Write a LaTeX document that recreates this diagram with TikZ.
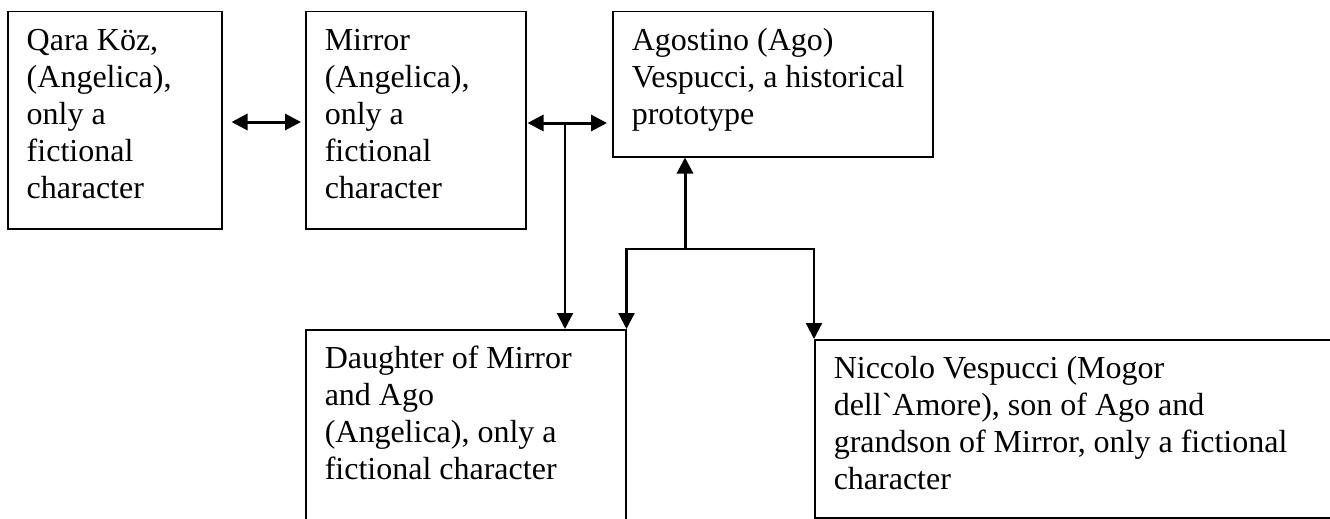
\documentclass[tikz,border=0pt]{standalone}
\usepackage{fontspec}
\setmainfont{Liberation Serif}
\usetikzlibrary{arrows.meta,calc}

\newcommand{\cardtext}[3]{\parbox[t][#1][t]{#2}{\strut #3}}

\tikzset{
  card/.style={draw, line width=1.5pt, anchor=north west,
    inner xsep=19pt, inner ysep=13pt, font=\fontsize{32}{37}\selectfont},
  link/.style={line width=2.2pt, >={Triangle[length=16pt,width=16pt]}},
  heavy link/.style={link, line width=3pt}
}

\begin{document}
\begin{tikzpicture}[x=1pt, y=-1pt]
  \useasboundingbox (0,0) rectangle (1330,519);
  \clip (0,0) rectangle (1330,519);

  % top row
  \node[card] (qara) at (7,11)
    {\cardtext{191pt}{176pt}{Qara Köz,\\(Angelica),\\only a\\fictional\\character}};
  \node[card] (mirror) at (305,11)
    {\cardtext{191pt}{182pt}{Mirror\\(Angelica),\\only a\\fictional\\character}};
  \node[card] (ago) at (612,11)
    {\cardtext{119pt}{282pt}{Agostino (Ago)\\Vespucci, a historical\\prototype}};

  % bottom row (runs past the page edge)
  \node[card] (daughter) at (305,329)
    {\cardtext{214pt}{282pt}{Daughter of Mirror\\and Ago\\(Angelica), only a\\fictional character}};
  \node[card] (niccolo) at (814,339)
    {\cardtext{152pt}{492pt}{Niccolo Vespucci (Mogor\\dell\textasciigrave Amore), son of Ago and\\grandson of Mirror, only a fictional\\character}};

  \coordinate (fork) at (565,123);
  \coordinate (hub) at (685,249);

  \draw[heavy link,<->,shorten <=9pt,shorten >=4pt] (qara.east |- 0,122) -- (mirror.west |- 0,122);
  \draw[heavy link,<->,shorten <=1pt,shorten >=5pt] (mirror.east |- fork) -- (ago.west |- fork);
  \draw[link,->] (fork) -- (fork |- daughter.north);
  \draw[heavy link,->] (hub) -- (hub |- ago.south);
  \draw[link,->] (hub) -| (daughter.north east);
  \draw[link,->] (hub) -| (niccolo.north west);
\end{tikzpicture}
\end{document}
